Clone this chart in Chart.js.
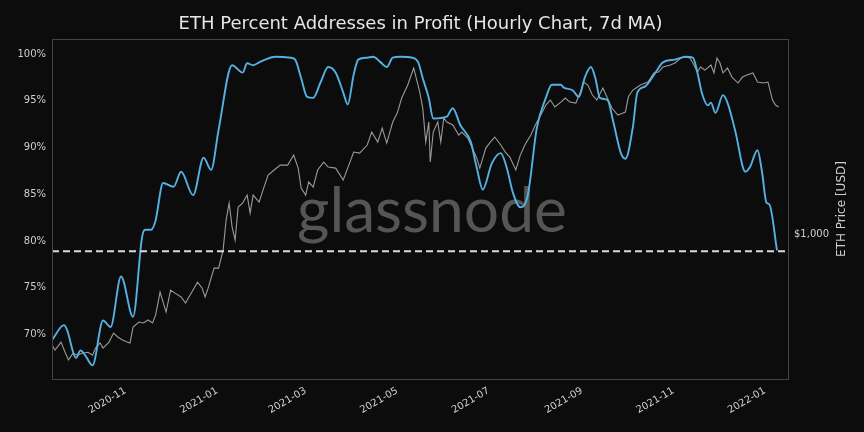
<!DOCTYPE html>
<html><head><meta charset="utf-8">
<script src="https://cdn.jsdelivr.net/npm/chart.js@4"></script>
<style>html,body{margin:0;padding:0;background:#0c0c0c;}canvas{display:block}</style>
</head><body>
<canvas id="c" width="864" height="432"></canvas>
<script>
// ---------- data ----------
const chartTitle = 'ETH Percent Addresses in Profit (Hourly Chart, 7d MA)';
const priceAxisTitle = 'ETH Price [USD]';
const watermarkText = 'glassnode';

const profitDates = ['2020-09-13','2020-09-21','2020-09-23','2020-09-29','2020-10-02','2020-10-05','2020-10-10','2020-10-17','2020-10-22','2020-10-29',
'2020-11-06','2020-11-12','2020-11-14','2020-11-18','2020-11-21','2020-11-26','2020-12-03','2020-12-08','2020-12-16','2020-12-23','2020-12-28',
'2021-01-02','2021-01-11','2021-01-18','2021-01-21','2021-01-25','2021-01-29','2021-02-02','2021-02-09','2021-02-19','2021-02-22','2021-02-26',
'2021-03-02','2021-03-06','2021-03-11','2021-03-16','2021-03-21','2021-03-26','2021-03-29','2021-04-02','2021-04-05','2021-04-11','2021-04-15',
'2021-04-20','2021-04-24','2021-04-28','2021-05-03','2021-05-11','2021-05-15','2021-05-18','2021-05-22','2021-05-25','2021-06-03','2021-06-07',
'2021-06-12','2021-06-19','2021-06-23','2021-06-27','2021-07-03','2021-07-09','2021-07-13','2021-07-17','2021-07-22','2021-07-27','2021-08-02',
'2021-08-08','2021-08-12','2021-08-18','2021-08-20','2021-08-26','2021-08-30','2021-09-03','2021-09-07','2021-09-10','2021-09-13','2021-09-18',
'2021-09-22','2021-09-27','2021-09-30','2021-10-05','2021-10-08','2021-10-13','2021-10-20','2021-10-25','2021-11-02','2021-11-09','2021-11-14',
'2021-11-17','2021-11-20','2021-11-24','2021-11-26','2021-11-29','2021-12-04','2021-12-07','2021-12-12','2021-12-19','2021-12-22','2021-12-27',
'2021-12-30','2022-01-02','2022-01-04','2022-01-09'];
const profitValues = [69.4,71.0,70.5,67.5,68.3,67.8,66.7,71.5,70.8,76.2,
71.9,80.4,81.2,81.2,82.2,86.2,85.8,87.4,84.9,88.9,87.6,
91.9,98.8,98.0,99.0,98.8,99.1,99.4,99.7,99.6,99.4,97.4,
95.4,95.3,97.0,98.6,98.0,95.9,94.6,97.8,99.4,99.6,99.7,
99.1,98.6,99.6,99.7,99.6,99.1,97.4,95.3,93.1,93.3,94.2,
92.4,90.6,87.8,85.5,88.3,89.4,87.8,85.2,83.6,84.9,92.1,
95.3,96.7,96.7,96.4,96.1,95.4,97.5,98.6,97.4,95.3,95.1,
92.7,89.4,88.8,92.2,95.9,96.5,98.0,99.1,99.4,99.7,99.6,
98.0,95.8,94.5,94.8,93.7,95.6,94.8,91.9,87.4,87.9,89.7,
87.4,84.1,83.9,79.0];

const priceDates = ['2020-09-13','2020-09-15','2020-09-19','2020-09-22','2020-09-24','2020-09-27','2020-09-30','2020-10-03','2020-10-07','2020-10-10',
'2020-10-12','2020-10-15','2020-10-17','2020-10-21','2020-10-24','2020-10-27','2020-10-30','2020-11-02','2020-11-04','2020-11-06','2020-11-10',
'2020-11-13','2020-11-16','2020-11-19','2020-11-21','2020-11-24','2020-11-28','2020-12-01','2020-12-04','2020-12-08','2020-12-11','2020-12-14',
'2020-12-19','2020-12-22','2020-12-24','2020-12-26','2020-12-30','2021-01-02','2021-01-05','2021-01-07','2021-01-09','2021-01-11','2021-01-13',
'2021-01-15','2021-01-18','2021-01-21','2021-01-23','2021-01-25','2021-01-29','2021-02-01','2021-02-04','2021-02-08','2021-02-12','2021-02-17',
'2021-02-21','2021-02-24','2021-02-26','2021-03-01','2021-03-03','2021-03-06','2021-03-09','2021-03-13','2021-03-16','2021-03-21','2021-03-26',
'2021-03-29','2021-04-02','2021-04-06','2021-04-11','2021-04-14','2021-04-18','2021-04-21','2021-04-24','2021-04-28','2021-05-01','2021-05-04',
'2021-05-08','2021-05-11','2021-05-12','2021-05-14','2021-05-16','2021-05-18','2021-05-20','2021-05-22','2021-05-23','2021-05-25','2021-05-28',
'2021-05-30','2021-06-01','2021-06-03','2021-06-07','2021-06-11','2021-06-13','2021-06-17','2021-06-20','2021-06-23','2021-06-25','2021-06-29',
'2021-07-02','2021-07-05','2021-07-09','2021-07-12','2021-07-15','2021-07-19','2021-07-22','2021-07-25','2021-07-29','2021-08-01','2021-08-04',
'2021-08-08','2021-08-11','2021-08-14','2021-08-18','2021-08-21','2021-08-24','2021-08-28','2021-08-31','2021-09-02','2021-09-05','2021-09-08',
'2021-09-11','2021-09-15','2021-09-18','2021-09-21','2021-09-25','2021-09-28','2021-09-30','2021-10-02','2021-10-05','2021-10-10','2021-10-15',
'2021-10-19','2021-10-22','2021-10-25','2021-10-30','2021-11-02','2021-11-06','2021-11-09','2021-11-12','2021-11-14','2021-11-17','2021-11-19',
'2021-11-22','2021-11-26','2021-11-28','2021-11-30','2021-12-02','2021-12-04','2021-12-07','2021-12-10','2021-12-14','2021-12-17','2021-12-20',
'2021-12-24','2021-12-27','2021-12-31','2022-01-03','2022-01-06','2022-01-08','2022-01-10'];
const priceValues = [370,354,380,344,324,344,338,344,347,338,
360,377,360,380,412,397,387,380,377,435,455,
451,463,451,484,595,497,605,589,569,539,579,
650,616,569,616,737,737,866,1134,1320,1065,948,
1274,1320,1418,1207,1418,1332,1510,1697,1775,1855,1855,
2029,1806,1510,1418,1594,1523,1775,1906,1822,1806,1622,
1806,2085,2066,2220,2494,2280,2585,2260,2728,2957,3382,
3800,4270,4425,3974,3569,3093,2280,2728,1906,2494,2728,
2280,2828,2728,2656,2428,2494,2363,2161,1975,1806,2161,
2280,2385,2220,2085,1993,1775,2029,2220,2428,2656,2853,
3177,3322,3121,3263,3382,3263,3234,3569,3904,3800,3474,
3322,3700,3382,3093,2904,2950,2984,3420,3634,3800,3904,
4232,4270,4465,4546,4628,4839,4883,4839,4628,4270,4465,
4346,4546,4232,4839,4628,4232,4425,4082,3869,4082,4156,
4232,3904,3869,3904,3322,3177,3121];

const currentLevel = 78.9;               // latest % in profit (dashed reference line)
const xAxisStart = '2020-09-13';
const xAxisEnd = '2022-01-17';
const xTickDates = ['2020-11-01','2021-01-01','2021-03-01','2021-05-01','2021-07-01','2021-09-01','2021-11-01','2022-01-01'];
const xTickLabels = ['2020-11','2021-01','2021-03','2021-05','2021-07','2021-09','2021-11','2022-01'];
const yTicks = [70,75,80,85,90,95,100];
const yTickLabels = ['70%','75%','80%','85%','90%','95%','100%'];
const yRange = [65.24, 101.6];
const priceTicks = [1000];
const priceTickLabels = ['$1,000'];
const priceRange = [273, 5740];

// ---------- helpers ----------
const DAY = 86400000;
const ORIGIN = Date.UTC(2020, 10, 1);
function toDay(s){ const p = s.split('-').map(Number); return (Date.UTC(p[0], p[1]-1, p[2]) - ORIGIN) / DAY; }

const BG = '#0c0c0c';
const TEXT = '#cfcfcf';
const FONT = 'DejaVu Sans';

const bgPlugin = {
  id: 'bg',
  beforeDraw(chart){
    const c = chart.ctx; c.save(); c.fillStyle = BG; c.fillRect(0, 0, chart.width, chart.height); c.restore();
  }
};
const watermarkPlugin = {
  id: 'wm',
  beforeDatasetsDraw(chart){
    const c = chart.ctx;
    c.save();
    c.font = '60px Lato';
    const w = c.measureText(watermarkText).width;
    const size = 60 * 270 / w;
    c.font = size.toFixed(1) + 'px Lato';
    c.fillStyle = '#555555';
    c.textAlign = 'center';
    c.textBaseline = 'alphabetic';
    c.fillText(watermarkText, 432, 232);
    c.restore();
  }
};
const framePlugin = {
  id: 'frame',
  afterDraw(chart){
    const c = chart.ctx, a = chart.chartArea;
    c.save();
    c.strokeStyle = '#444444'; c.lineWidth = 1;
    c.strokeRect(Math.round(a.left) + 0.5, Math.round(a.top) + 0.5, Math.round(a.right - a.left) - 1, Math.round(a.bottom - a.top));
    // right axis title (reads bottom to top)
    c.translate(842, (a.top + a.bottom) / 2);
    c.rotate(-Math.PI / 2);
    c.font = '12px ' + FONT;
    c.fillStyle = TEXT;
    c.textAlign = 'center'; c.textBaseline = 'middle';
    c.fillText(priceAxisTitle, 0, 0);
    c.restore();
  }
};

new Chart(document.getElementById('c').getContext('2d'), {
  type: 'line',
  data: {
    datasets: [
      {
        label: 'Dashed level',
        data: [{x: toDay(xAxisStart), y: currentLevel}, {x: toDay(xAxisEnd), y: currentLevel}],
        yAxisID: 'y', borderColor: '#d9d9d9', borderWidth: 2, borderDash: [7, 4],
        pointRadius: 0, order: 0
      },
      {
        label: 'Percent Addresses in Profit',
        data: profitDates.map((d, i) => ({x: toDay(d), y: profitValues[i]})),
        yAxisID: 'y', borderColor: '#55b1e3', borderWidth: 1.9,
        pointRadius: 0, cubicInterpolationMode: 'monotone', order: 1
      },
      {
        label: 'ETH Price',
        data: priceDates.map((d, i) => ({x: toDay(d), y: priceValues[i]})),
        yAxisID: 'y2', borderColor: '#9a9a9a', borderWidth: 1.1,
        pointRadius: 0, tension: 0, order: 2
      }
    ]
  },
  options: {
    responsive: false, animation: false, devicePixelRatio: 1,
    layout: { padding: 0 },
    plugins: {
      legend: { display: false },
      tooltip: { enabled: false },
      title: {
        display: true, text: chartTitle, fullSize: false, color: '#e6e6e6',
        font: { family: FONT, size: 18, weight: 'normal' },
        padding: { top: 14, bottom: 3.4 }
      }
    },
    scales: {
      x: {
        type: 'linear', min: toDay(xAxisStart), max: toDay(xAxisEnd),
        afterBuildTicks: s => { s.ticks = xTickDates.map(d => ({value: toDay(d)})); },
        afterFit: s => { s.height = 53; },
        grid: { display: false, drawTicks: false }, border: { display: false },
        ticks: {
          autoSkip: false, minRotation: 30, maxRotation: 30, padding: 6,
          color: TEXT, font: { family: FONT, size: 10 },
          callback: (v, i) => xTickLabels[i]
        }
      },
      y: {
        type: 'linear', position: 'left', min: yRange[0], max: yRange[1],
        afterBuildTicks: s => { s.ticks = yTicks.map(v => ({value: v})); },
        afterFit: s => { s.width = 52; },
        grid: { display: false, drawTicks: false }, border: { display: false },
        ticks: { padding: 6, color: TEXT, font: { family: FONT, size: 10 }, callback: (v, i) => yTickLabels[i] }
      },
      y2: {
        type: 'logarithmic', position: 'right', min: priceRange[0], max: priceRange[1],
        afterBuildTicks: s => { s.ticks = priceTicks.map(v => ({value: v})); },
        afterFit: s => { s.width = 75; },
        grid: { display: false, drawTicks: false }, border: { display: false },
        ticks: { padding: 5, color: TEXT, font: { family: FONT, size: 10 }, callback: (v, i) => priceTickLabels[i] }
      }
    }
  },
  plugins: [bgPlugin, watermarkPlugin, framePlugin]
});
</script>
</body></html>
